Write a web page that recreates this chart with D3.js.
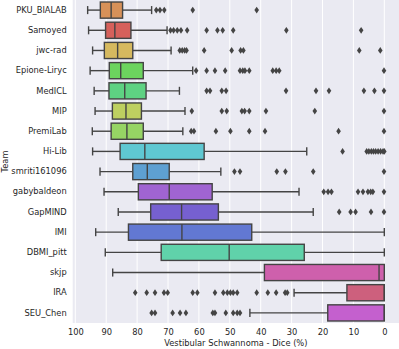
<!DOCTYPE html>
<html>
<head>
<meta charset="utf-8">
<script src="https://cdn.jsdelivr.net/npm/d3@7"></script>
<style>
  body { margin: 0; background: #fff; }
  text { font-family: 'DejaVu Sans', sans-serif; fill: #262626; }
</style>
</head>
<body>
<div class="canvas"></div>
<script>
// teams top to bottom
const teams = ['PKU_BIALAB', 'Samoyed', 'jwc-rad', 'Epione-Liryc', 'MedICL', 'MIP', 'PremiLab', 'Hi-Lib',
    'smriti161096', 'gabybaldeon', 'GapMIND', 'IMI', 'DBMI_pitt', 'skjp', 'IRA', 'SEU_Chen']
const colours = ['#d79159', '#d6605b', '#d6b95f', '#6cd45e', '#5ed282', '#bed060', '#96d464', '#5fc8d2',
    '#5ea0d2', '#a064d2', '#7660d0', '#6278d2', '#60d2aa', '#ce60ac', '#cd607d', '#c460ce']

// box stats, dice %
const whiskerHigh = [96.0, 95.7, 94.4, 95.2, 93.9, 93.6, 94.5, 94.4, 92.0, 90.7, 86.1, 93.4, 90.3, 87.9, 29.2, 43.5]
const q3 = [91.9, 90.2, 90.6, 89.0, 89.1, 88.0, 88.4, 85.5, 81.4, 79.6, 75.6, 82.8, 72.2, 38.8, 12.1, 18.3]
const median = [88.4, 87.2, 86.3, 85.3, 84.0, 83.6, 83.3, 77.5, 76.7, 69.6, 65.6, 65.5, 50.2, 1.7, 0, 0]
const q1 = [84.7, 82.0, 81.4, 78.0, 77.1, 78.6, 78.0, 58.3, 69.6, 55.7, 53.7, 42.9, 25.9, 0, 0, 0]
const whiskerLow = [75.3, 70.3, 69.0, 62.0, 66.3, 64.5, 65.2, 25.1, 52.9, 27.6, 23.0, 0, 0, 0, 0, 0]
const outliers = [
    [73.8, 72.6, 71.2, 62.0, 41.3],
    [69.2, 68.2, 67.0, 65.8, 63.8, 57.5, 54.0, 52.3, 48.9, 31.7, 7.5],
    [66.2, 65.4, 64.6, 64.0, 58.3, 49.4, 46.5, 45.6, 8.1, 1.3],
    [60.9, 57.5, 54.8, 51.5, 46.7, 45.8, 45.1, 43.7, 36.1, 35.0, 34.0, 0.1],
    [57.5, 56.4, 52.6, 51.2, 31.8, 22.1, 17.9, 6.6, 3.2, 0.1],
    [62.3, 52.6, 51.0, 46.1, 45.2, 43.7, 38.3, 22.5, 0.1],
    [62.5, 61.6, 54.5, 49.8, 43.7, 38.6, 14.8, 0.1],
    [13.5, 5.7, 5.0, 4.2, 3.5, 2.8, 2.0, 1.2, 0.4, 0.0],
    [48.5, 46.7, 34.8, 32.0, 23.0, 0.1],
    [19.6, 18.2, 17.1, 8.5, 6.9, 5.3, 4.4, 3.7, 0.1],
    [14.6, 10.9, 9.3, 4.3, 0.1],
    [],
    [],
    [],
    [80.6, 76.9, 74.2, 71.3, 70.1, 62.0, 60.5, 54.8, 52.1, 50.8, 49.8, 48.9, 47.6, 41.3, 37.7, 35.0, 32.1, 31.4],
    [75.3, 74.2, 68.5, 66.1, 64.2, 55.5, 54.8, 51.3, 48.9, 47.6, 46.7]
]
const xTicks = [100, 90, 80, 70, 60, 50, 40, 30, 20, 10, 0]

const dims = {width: 399, height: 349}
const plot = {left: 72.7, right: 399, top: 0, bottom: 323}
const lineCol = '#444'

const svg = d3.select('.canvas')
    .append('svg')
    .attr('width', dims.width)
    .attr('height', dims.height)

// reversed axis, 100 on the left
const x = d3.scaleLinear()
    .domain([100, 0])
    .range([75.3, 384.3])

const y = d3.scaleBand()
    .domain(teams)
    .range([plot.top, plot.bottom])
    .paddingInner(0.2)
    .paddingOuter(0.1)

// background + grid
svg.append('rect')
    .attr('x', plot.left).attr('y', plot.top)
    .attr('width', plot.right - plot.left).attr('height', plot.bottom - plot.top)
    .attr('fill', '#eaeaf2')

svg.append('g')
    .selectAll('line')
    .data(xTicks)
    .enter().append('line')
    .attr('x1', d => x(d)).attr('x2', d => x(d))
    .attr('y1', plot.top).attr('y2', plot.bottom)
    .attr('stroke', '#fff')
    .attr('stroke-width', 1)

// axes text
const xAxis = d3.axisBottom(x).tickValues(xTicks).tickSize(0).tickPadding(6)
const gx = svg.append('g')
    .attr('transform', `translate(0, ${plot.bottom})`)
    .call(xAxis)
gx.select('.domain').remove()
gx.selectAll('text').attr('font-size', '8.3px').attr('fill', '#262626').attr('font-family', 'DejaVu Sans')

const yAxis = d3.axisLeft(y).tickSize(0).tickPadding(6)
const gy = svg.append('g')
    .attr('transform', `translate(${plot.left}, 0)`)
    .call(yAxis)
gy.select('.domain').remove()
gy.selectAll('text').attr('font-size', '8.3px').attr('fill', '#262626').attr('font-family', 'DejaVu Sans')

svg.append('text')
    .attr('x', (plot.left + plot.right) / 2)
    .attr('y', 346)
    .attr('text-anchor', 'middle')
    .attr('font-size', '8.3px')
    .text('Vestibular Schwannoma - Dice (%)')

svg.append('text')
    .attr('transform', `translate(8, ${(plot.top + plot.bottom) / 2}) rotate(-90)`)
    .attr('text-anchor', 'middle')
    .attr('font-size', '8.3px')
    .text('Team')

// one group per team
const rows = teams.map((t, i) => ({
    team: t, colour: colours[i], wHi: whiskerHigh[i], q3: q3[i], med: median[i],
    q1: q1[i], wLo: whiskerLow[i], out: outliers[i]
}))

const boxes = svg.append('g')
    .selectAll('g')
    .data(rows)
    .enter().append('g')
    .attr('transform', d => `translate(0, ${y(d.team)})`)

const bw = y.bandwidth()

// whiskers
boxes.append('line')
    .attr('x1', d => x(d.wHi)).attr('x2', d => x(d.q3))
    .attr('y1', bw / 2).attr('y2', bw / 2)
    .attr('stroke', lineCol).attr('stroke-width', 1.4)
boxes.append('line')
    .attr('x1', d => x(d.q1)).attr('x2', d => x(d.wLo))
    .attr('y1', bw / 2).attr('y2', bw / 2)
    .attr('stroke', lineCol).attr('stroke-width', 1.4)
// caps
boxes.selectAll('.cap')
    .data(d => [d.wHi, d.wLo])
    .enter().append('line')
    .attr('class', 'cap')
    .attr('x1', d => x(d)).attr('x2', d => x(d))
    .attr('y1', bw / 4).attr('y2', bw * 3 / 4)
    .attr('stroke', lineCol).attr('stroke-width', 1.4)

// box
boxes.append('rect')
    .attr('x', d => x(d.q3))
    .attr('width', d => x(d.q1) - x(d.q3))
    .attr('y', 0).attr('height', bw)
    .attr('fill', d => d.colour)
    .attr('stroke', lineCol).attr('stroke-width', 1.4)

// median
boxes.append('line')
    .attr('x1', d => x(d.med)).attr('x2', d => x(d.med))
    .attr('y1', 0).attr('y2', bw)
    .attr('stroke', lineCol).attr('stroke-width', 1.4)

// fliers, thin diamonds
boxes.selectAll('.flier')
    .data(d => d.out)
    .enter().append('path')
    .attr('class', 'flier')
    .attr('d', d => {
        const cx = x(d), cy = bw / 2
        return `M${cx},${cy - 3.4} L${cx + 2.3},${cy} L${cx},${cy + 3.4} L${cx - 2.3},${cy} Z`
    })
    .attr('fill', lineCol)
</script>
</body>
</html>
